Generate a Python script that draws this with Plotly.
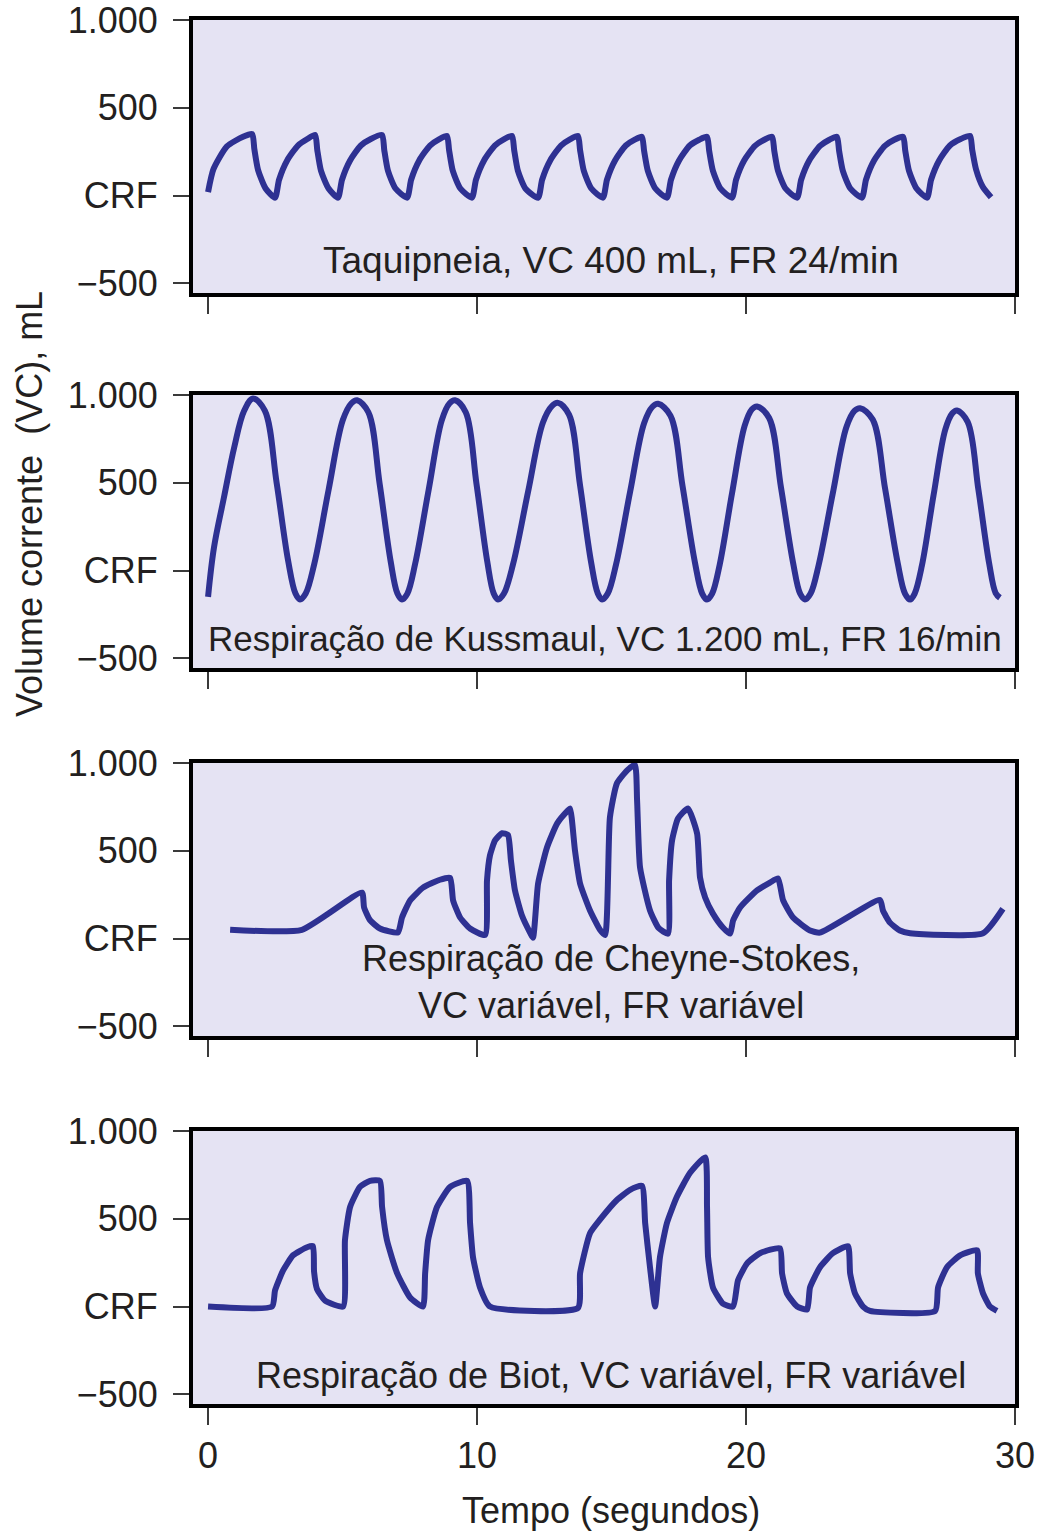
import plotly.graph_objects as go

# ---------------- data (time in s, volume in mL relative to CRF) ----------------
taq_t = [0.00, 0.20, 0.70, 1.30, 1.64,
         1.72, 1.86, 2.14, 2.49,
         2.64, 2.94, 3.34, 3.69, 3.98,
         4.06, 4.20, 4.48, 4.83,
         4.98, 5.28, 5.68, 6.05, 6.47,
         6.55, 6.69, 6.97, 7.40,
         7.55, 7.85, 8.25, 8.60, 8.88,
         8.96, 9.10, 9.38, 9.81,
         9.96, 10.26, 10.66, 11.01, 11.30,
         11.38, 11.52, 11.80, 12.27,
         12.42, 12.72, 13.12, 13.47, 13.75,
         13.83, 13.97, 14.25, 14.68,
         14.83, 15.13, 15.53, 15.88, 16.13,
         16.21, 16.35, 16.63, 17.06,
         17.21, 17.51, 17.91, 18.26, 18.55,
         18.63, 18.77, 19.05, 19.48,
         19.63, 19.93, 20.33, 20.68, 20.97,
         21.05, 21.19, 21.47, 21.90,
         22.05, 22.35, 22.75, 23.10, 23.38,
         23.46, 23.60, 23.88, 24.31,
         24.46, 24.76, 25.16, 25.51, 25.84,
         25.92, 26.06, 26.34, 26.73,
         26.88, 27.18, 27.58, 27.98, 28.33,
         28.41, 28.55, 28.80, 29.11]
taq_v = [20, 150, 280, 335, 350,
         265, 145, 40, -12,
         90, 200, 285, 322, 345,
         260, 140, 40, -12,
         90, 200, 285, 322, 345,
         260, 140, 40, -12,
         90, 200, 285, 322, 340,
         260, 140, 40, -12,
         90, 200, 285, 322, 340,
         260, 140, 40, -12,
         90, 200, 285, 322, 340,
         260, 140, 40, -12,
         90, 200, 285, 320, 335,
         255, 140, 40, -12,
         90, 200, 285, 318, 335,
         255, 140, 40, -12,
         90, 200, 283, 318, 335,
         255, 140, 40, -12,
         90, 200, 283, 318, 335,
         255, 140, 40, -12,
         90, 200, 283, 318, 335,
         255, 140, 40, -12,
         90, 200, 285, 322, 340,
         260, 150, 50, -10]

kus_t = [0.00, 0.22, 0.59, 0.97, 1.34, 1.67,
         2.11, 2.55, 2.98, 3.25, 3.42,
         3.63, 3.95, 4.48, 5.01, 5.33, 5.54,
         5.96, 6.38, 6.79, 7.04, 7.21,
         7.41, 7.70, 8.20, 8.69, 8.98, 9.18,
         9.58, 9.98, 10.38, 10.62, 10.78,
         11.00, 11.34, 11.90, 12.45, 12.79, 13.01,
         13.42, 13.83, 14.24, 14.49, 14.65,
         14.86, 15.17, 15.69, 16.21, 16.52, 16.73,
         17.19, 17.64, 18.10, 18.37, 18.55,
         18.74, 19.02, 19.48, 19.95, 20.22, 20.41,
         20.86, 21.30, 21.75, 22.01, 22.19,
         22.40, 22.70, 23.22, 23.73, 24.03, 24.24,
         24.71, 25.17, 25.64, 25.91, 26.10,
         26.27, 26.54, 26.97, 27.41, 27.67, 27.84,
         28.24, 28.64, 29.04, 29.28, 29.44]
kus_v = [-150, 131, 416, 700, 910, 980,
         911, 499, 53, -131, -165,
         -131, 39, 459, 857, 953, 970,
         902, 493, 51, -131, -165,
         -131, 39, 459, 857, 953, 970,
         902, 493, 51, -131, -165,
         -131, 37, 451, 843, 938, 955,
         888, 485, 48, -131, -165,
         -131, 36, 448, 839, 933, 950,
         883, 482, 47, -131, -165,
         -131, 33, 440, 825, 919, 935,
         869, 473, 44, -131, -165,
         -131, 31, 435, 816, 909, 925,
         860, 467, 42, -131, -165,
         -131, 29, 427, 804, 896, 912,
         847, 460, 40, -128, -155]

cs_t = [0.82, 3.49, 5.72,
        5.80, 6.02, 6.39, 7.06,
        7.21, 7.51, 7.99, 8.62, 9.00,
        9.11, 9.37, 9.74, 10.30,
        10.37, 10.48, 10.67, 10.93, 11.15,
        11.26, 11.41, 11.67, 11.97, 12.08,
        12.27, 12.60, 12.98, 13.38, 13.46,
        13.64, 13.83, 14.20, 14.57, 14.76,
        14.94, 15.20, 15.58, 15.87,
        15.95, 16.06, 16.43, 16.75, 17.10,
        17.14, 17.25, 17.47, 17.84,
        18.18, 18.29, 18.48, 18.77, 19.14, 19.41,
        19.52, 19.78, 20.41, 20.89, 21.19,
        21.38, 21.75, 22.38, 22.75,
        24.98,
        25.09, 25.35, 25.72, 26.10,
        28.81, 29.55]
cs_v = [50, 50, 262,
        177, 105, 57, 35,
        120, 217, 290, 335, 345,
        217, 120, 57, 20,
        331, 473, 559, 600, 590,
        445, 274, 131, 34, 5,
        314, 519, 656, 730, 741,
        502, 314, 160, 50, 20,
        690, 884, 958, 990,
        787, 405, 160, 60, 28,
        331, 559, 684, 741,
        599, 348, 234, 142, 63, 28,
        103, 177, 274, 319, 342,
        217, 120, 46, 34,
        220,
        160, 91, 46, 30,
        30, 170]

biot_t = [0.00, 2.38,
          2.49, 2.79, 3.16, 3.68, 3.90,
          3.94, 4.05, 4.35, 5.02,
          5.09, 5.28, 5.65, 6.02, 6.39,
          6.47, 6.65, 7.03, 7.51, 7.99,
          8.07, 8.18, 8.51, 9.00, 9.63,
          9.74, 9.85, 10.11, 10.48,
          13.75,
          13.83, 14.20, 14.57, 15.20, 15.69, 16.13,
          16.25, 16.43, 16.62,
          16.80, 17.06, 17.43, 17.92, 18.48,
          18.55, 18.59, 18.77, 19.14, 19.52,
          19.70, 20.04, 20.52, 21.26,
          21.34, 21.52, 21.90, 22.27,
          22.38, 22.75, 23.23, 23.79,
          23.87, 24.05, 24.35, 24.61,
          27.03,
          27.14, 27.47, 27.96, 28.59,
          28.62, 28.81, 29.07, 29.33]
biot_v = [0, 0,
          92, 206, 292, 338, 344,
          200, 100, 34, 0,
          378, 567, 682, 716, 716,
          567, 378, 189, 52, 0,
          189, 378, 567, 682, 716,
          476, 281, 109, 0,
          -8,
          189, 418, 495, 607, 665, 688,
          476, 224, 0,
          281, 476, 625, 762, 850,
          567, 281, 109, 17, 0,
          149, 246, 304, 332,
          189, 75, 0, -17,
          109, 224, 304, 344,
          189, 75, 0, -25,
          -25,
          109, 224, 292, 321,
          189, 75, 0, -25]

panel_labels = ["Taquipneia, VC 400 mL, FR 24/min",
                "Respiração de Kussmaul, VC 1.200 mL, FR 16/min",
                "Respiração de Cheyne-Stokes,<br>VC variável, FR variável",
                "Respiração de Biot, VC variável, FR variável"]
label_pos = [(14.98, -369), (14.76, -386), (14.98, -245), (14.98, -392)]
label_size = [37, 35, 36, 36]

y_tickvals = [-500, 0, 500, 1000]
y_ticktext = ["\u2212500", "CRF", "500", "1.000"]
x_tickvals = [0, 10, 20, 30]

# ---------------- figure ----------------
W, H = 1039, 1531
LINE = "#2E3192"
BG = "#E5E3F3"
TXT = "#231F20"
FONT = "Liberation Sans, Arial, Helvetica, sans-serif"

# panel box pixel extents (top, bottom)
boxes = [(20, 293), (395, 668), (763, 1036), (1131, 1404)]
L = 193
R = W - 1015
PW = W - L - R

series = [(taq_t, taq_v, 0.6), (kus_t, kus_v, 1.0), (cs_t, cs_v, 0.5), (biot_t, biot_v, 0.5)]

fig = go.Figure()
for i, (t, v, sm) in enumerate(series):
    n = "" if i == 0 else str(i + 1)
    fig.add_trace(go.Scatter(x=t, y=v, mode="lines", xaxis="x" + n, yaxis="y" + n,
                             line=dict(color=LINE, width=6, shape="spline", smoothing=sm),
                             hoverinfo="skip", showlegend=False))
    top, bot = boxes[i]
    dom = [(H - bot) / H, (H - top) / H]
    xa = dict(domain=[0, 1], range=[-0.56, 30], tickvals=x_tickvals, ticks="outside",
              ticklen=17, tickwidth=2, tickcolor="#3a3a3a", showline=True, mirror=True,
              linecolor="black", linewidth=4, showgrid=False, zeroline=False,
              showticklabels=(i == 3), tickfont=dict(size=36, color=TXT, family=FONT),
              anchor="y" + n, fixedrange=True, automargin=False, ticklabeloverflow="allow")
    ya = dict(domain=dom, range=[-555, 1000], tickvals=y_tickvals, ticktext=y_ticktext,
              ticks="outside", ticklen=16, tickwidth=2, tickcolor="#3a3a3a",
              showline=True, mirror=True, linecolor="black", linewidth=4,
              showgrid=False, zeroline=False, tickfont=dict(size=36, color=TXT, family=FONT),
              anchor="x" + n, ticklabelstandoff=8, fixedrange=True, automargin=False,
              ticklabeloverflow="allow")
    fig.layout["xaxis" + n] = xa
    fig.layout["yaxis" + n] = ya
    fig.add_annotation(x=label_pos[i][0], y=label_pos[i][1], xref="x" + n, yref="y" + n,
                       text=panel_labels[i], showarrow=False, xanchor="center", yanchor="middle",
                       font=dict(size=label_size[i], color=TXT, family=FONT), align="center")

fig.add_annotation(x=(30 - L) / PW, y=(H - 504) / H, xref="paper", yref="paper",
                   text="Volume corrente  (VC), mL", textangle=-90, showarrow=False,
                   xanchor="center", yanchor="middle",
                   font=dict(size=36, color=TXT, family=FONT))
fig.add_annotation(x=(611 - L) / PW, y=(H - 1510) / H, xref="paper", yref="paper",
                   text="Tempo (segundos)", showarrow=False, xanchor="center", yanchor="middle",
                   font=dict(size=36, color=TXT, family=FONT))

fig.update_layout(width=W, height=H, margin=dict(l=L, r=R, t=0, b=0, autoexpand=False),
                  paper_bgcolor="white", plot_bgcolor=BG, showlegend=False)

fig.write_html("out.html", config={"displayModeBar": False},
               post_script="document.body.style.margin='0px';document.body.style.overflow='hidden';")
